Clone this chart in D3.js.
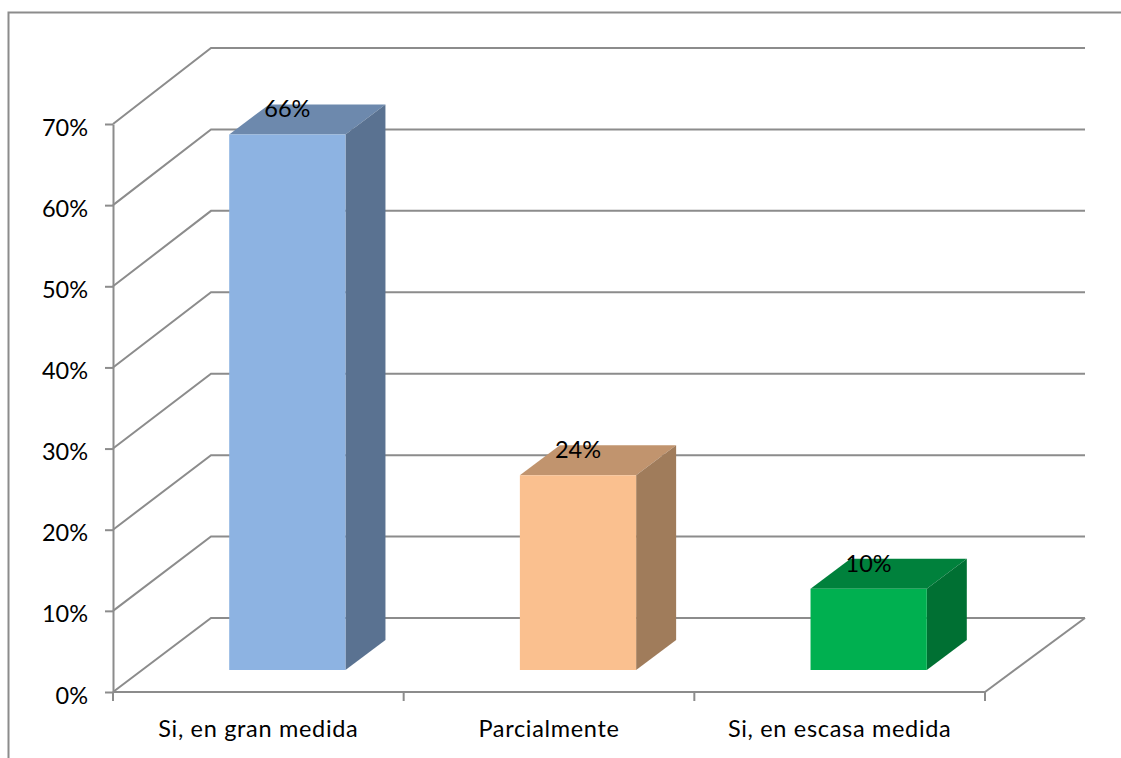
<!DOCTYPE html>
<html>
<head>
<meta charset="utf-8">
<script src="https://cdn.jsdelivr.net/npm/d3@7"></script>
<style>
  html, body { margin: 0; padding: 0; background: #fff; overflow: hidden; }
  text { font-family: Lato, "Open Sans", "Noto Sans", sans-serif; fill: #000; }
</style>
</head>
<body>
<div id="chart"></div>
<script>
const categories = ["Si, en gran medida", "Parcialmente", "Si, en escasa medida"];
const values = [66, 24, 10];
const valueLabels = ["66%", "24%", "10%"];
const yTicks = [0, 10, 20, 30, 40, 50, 60, 70];
const frontColors = ["#8db3e2", "#fac08f", "#00b050"];
const topColors = ["#6d89ad", "#c1946e", "#00813c"];
const sideColors = ["#5a7291", "#a07c5b", "#007033"];

let width = 1121,
  height = 758,
  grey = "#8c8c8c",
  fontSize = "23.5px";

// front plane of the box and the back wall behind it
let plot = { left: 113, right: 985, top: 124, bottom: 692 };
let wall = { left: 211, right: 1085, top: 48, bottom: 618 };
// the bars stand part way into the floor and have their own small depth
let barInset = { x: 29, y: -22 };
let barDepth = { x: 40, y: -30 };

let svg = d3
  .select("#chart")
  .append("svg")
  .attr("width", width)
  .attr("height", height)
  .style("display", "block");

let xScale = d3
  .scaleBand()
  .domain(categories)
  .range([plot.left, plot.right])
  .paddingInner(0.6)
  .paddingOuter(0.3);

let xBand = d3.scaleBand().domain(categories).range([plot.left, plot.right]);

let yScale = d3.scaleLinear().domain([0, 70]).range([plot.bottom, plot.top]);
let yWall = d3.scaleLinear().domain([0, 70]).range([wall.bottom, wall.top]);

// outer frame, only top and left show in the cropped original
svg
  .append("path")
  .attr("d", d3.line()([[8.5, height], [8.5, 12.5], [width, 12.5]]))
  .attr("fill", "none")
  .attr("stroke", grey)
  .attr("stroke-width", 2);

let grid = svg.append("g").attr("fill", "none").attr("stroke", grey).attr("stroke-width", 2);

// back wall lines with their diagonal down to the value axis
grid
  .selectAll("path")
  .data(yTicks)
  .join("path")
  .attr("d", (d) =>
    d3.line()([
      [plot.left, yScale(d)],
      [wall.left, yWall(d)],
      [wall.right, yWall(d)],
    ])
  );

// right floor edge
grid
  .append("path")
  .attr("d", d3.line()([
    [plot.right, plot.bottom],
    [wall.right, wall.bottom],
  ]));

let yAxis = d3
  .axisLeft(yScale)
  .tickValues(yTicks)
  .tickFormat((d) => d + "%")
  .tickSize(8)
  .tickSizeOuter(0)
  .tickPadding(17);

let yAxisEl = svg
  .append("g")
  .attr("transform", "translate(" + plot.left + ",0)")
  .call(yAxis);

let xTicks = categories.map((c) => xBand(c)).concat(plot.right);

svg
  .append("g")
  .attr("stroke", grey)
  .attr("stroke-width", 2)
  .selectAll("line")
  .data(xTicks)
  .join("line")
  .attr("x1", (d) => d)
  .attr("x2", (d) => d)
  .attr("y1", plot.bottom)
  .attr("y2", plot.bottom + 9);

svg
  .append("line")
  .attr("x1", plot.left)
  .attr("x2", plot.right)
  .attr("y1", plot.bottom)
  .attr("y2", plot.bottom)
  .attr("stroke", grey)
  .attr("stroke-width", 2);

yAxisEl.selectAll("path, line").attr("stroke", grey).attr("stroke-width", 2);
yAxisEl
  .selectAll("text")
  .style("font-size", fontSize)
  .attr("fill", "#000")
  .attr("dy", "11px");

svg
  .append("g")
  .selectAll("text")
  .data(categories)
  .join("text")
  .attr("x", (d) => xBand(d) + xBand.bandwidth() / 2)
  .attr("y", 737)
  .attr("text-anchor", "middle")
  .style("font-size", fontSize)
  .style("letter-spacing", "0.68px")
  .text((d) => d);

function barFaces(d, i) {
  let x0 = xScale(categories[i]) + barInset.x,
    x1 = x0 + xScale.bandwidth(),
    y0 = yScale(0) + barInset.y,
    y1 = yScale(d) + barInset.y;
  return {
    front: [[x0, y0], [x1, y0], [x1, y1], [x0, y1]],
    top: [[x0, y1], [x1, y1], [x1 + barDepth.x, y1 + barDepth.y], [x0 + barDepth.x, y1 + barDepth.y]],
    side: [[x1, y0], [x1 + barDepth.x, y0 + barDepth.y], [x1 + barDepth.x, y1 + barDepth.y], [x1, y1]],
  };
}

let bars = svg.append("g").selectAll("g").data(values).join("g");

let polygon = (pts) => pts.map((p) => p.join(",")).join(" ");

bars.append("polygon").attr("points", (d, i) => polygon(barFaces(d, i).top)).attr("fill", (d, i) => topColors[i]);
bars.append("polygon").attr("points", (d, i) => polygon(barFaces(d, i).side)).attr("fill", (d, i) => sideColors[i]);
bars.append("polygon").attr("points", (d, i) => polygon(barFaces(d, i).front)).attr("fill", (d, i) => frontColors[i]);

bars
  .append("text")
  .attr("x", (d, i) => xScale(categories[i]) + barInset.x + xScale.bandwidth() / 2)
  .attr("y", (d) => yScale(d) + barInset.y - 17)
  .attr("text-anchor", "middle")
  .style("font-size", fontSize)
  .text((d, i) => valueLabels[i]);
</script>
</body>
</html>
